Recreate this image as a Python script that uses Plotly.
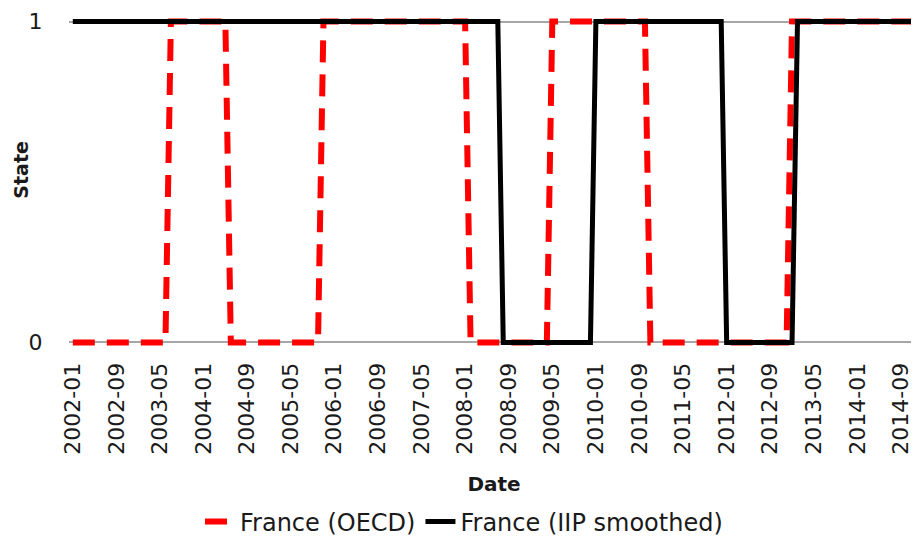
import plotly.graph_objects as go

# Monthly categories 2002-01 .. 2015-03
MONTHS = [f"{y}-{m:02d}" for y in range(2002, 2016) for m in range(1, 13)][:159]

TICK_LABELS = ["2002-01", "2002-09", "2003-05", "2004-01", "2004-09", "2005-05",
               "2006-01", "2006-09", "2007-05", "2008-01", "2008-09", "2009-05",
               "2010-01", "2010-09", "2011-05", "2012-01", "2012-09", "2013-05",
               "2014-01", "2014-09"]

# France (OECD) state, one value per month (rows = years)
OECD = (
    [0, 0, 0, 0, 0, 0, 0, 0, 0, 0, 0, 0] +   # 2002
    [0, 0, 0, 0, 0, 0, 1, 1, 1, 1, 1, 1] +   # 2003
    [1, 1, 1, 1, 1, 0, 0, 0, 0, 0, 0, 0] +   # 2004
    [0, 0, 0, 0, 0, 0, 0, 0, 0, 0, 1, 1] +   # 2005
    [1, 1, 1, 1, 1, 1, 1, 1, 1, 1, 1, 1] +   # 2006
    [1, 1, 1, 1, 1, 1, 1, 1, 1, 1, 1, 1] +   # 2007
    [1, 0, 0, 0, 0, 0, 0, 0, 0, 0, 0, 0] +   # 2008
    [0, 0, 0, 0, 1, 1, 1, 1, 1, 1, 1, 1] +   # 2009
    [1, 1, 1, 1, 1, 1, 1, 1, 1, 1, 0, 0] +   # 2010
    [0, 0, 0, 0, 0, 0, 0, 0, 0, 0, 0, 0] +   # 2011
    [0, 0, 0, 0, 0, 0, 0, 0, 0, 0, 0, 0] +   # 2012
    [1, 1, 1, 1, 1, 1, 1, 1, 1, 1, 1, 1] +   # 2013
    [1, 1, 1, 1, 1, 1, 1, 1, 1, 1, 1, 1] +   # 2014
    [1, 1, 1]                                # 2015
)

# France (IIP smoothed) state
IIP = (
    [1, 1, 1, 1, 1, 1, 1, 1, 1, 1, 1, 1] +   # 2002
    [1, 1, 1, 1, 1, 1, 1, 1, 1, 1, 1, 1] +   # 2003
    [1, 1, 1, 1, 1, 1, 1, 1, 1, 1, 1, 1] +   # 2004
    [1, 1, 1, 1, 1, 1, 1, 1, 1, 1, 1, 1] +   # 2005
    [1, 1, 1, 1, 1, 1, 1, 1, 1, 1, 1, 1] +   # 2006
    [1, 1, 1, 1, 1, 1, 1, 1, 1, 1, 1, 1] +   # 2007
    [1, 1, 1, 1, 1, 1, 1, 0, 0, 0, 0, 0] +   # 2008
    [0, 0, 0, 0, 0, 0, 0, 0, 0, 0, 0, 0] +   # 2009
    [1, 1, 1, 1, 1, 1, 1, 1, 1, 1, 1, 1] +   # 2010
    [1, 1, 1, 1, 1, 1, 1, 1, 1, 1, 1, 1] +   # 2011
    [0, 0, 0, 0, 0, 0, 0, 0, 0, 0, 0, 0] +   # 2012
    [0, 1, 1, 1, 1, 1, 1, 1, 1, 1, 1, 1] +   # 2013
    [1, 1, 1, 1, 1, 1, 1, 1, 1, 1, 1, 1] +   # 2014
    [1, 1, 1]                                # 2015
)

Y_TICKS = [0, 1]
Y_LABELS = ["0", "1"]

FONT = "DejaVu Sans"
TXT = "#1a1a1a"

fig = go.Figure()
fig.add_trace(go.Scatter(
    x=MONTHS, y=OECD, mode="lines", name="France (OECD)",
    line=dict(color="#ff0000", width=6, dash="22px,12px"),
))
fig.add_trace(go.Scatter(
    x=MONTHS, y=IIP, mode="lines", name="France (IIP smoothed)",
    line=dict(color="#000000", width=5),
))

fig.update_layout(
    width=911, height=532,
    margin=dict(l=61.3, r=0, t=4.4, b=188.4, autoexpand=False),
    paper_bgcolor="white", plot_bgcolor="white",
    font=dict(family=FONT, color=TXT),
    showlegend=True,
    legend=dict(
        orientation="h", xref="container", yref="container",
        x=456 / 911, xanchor="center", y=0.034, yanchor="middle",
        font=dict(family=FONT, size=24, color=TXT),
        tracegroupgap=0,
    ),
    xaxis=dict(
        type="category", range=[-0.7, 155.3],
        tickmode="array", tickvals=TICK_LABELS, ticktext=TICK_LABELS,
        tickangle=-90, tickfont=dict(family=FONT, size=22, color=TXT),
        ticks="outside", ticklen=1, tickcolor="rgba(0,0,0,0)",
        showgrid=False, zeroline=False, showline=False,
        title=dict(text="<b>Date</b>", font=dict(family=FONT, size=20, color=TXT),
                   standoff=23),
        automargin=False,
    ),
    yaxis=dict(
        range=[-0.03, 1.03],
        tickmode="array", tickvals=Y_TICKS, ticktext=Y_LABELS,
        tickfont=dict(family=FONT, size=22, color=TXT),
        ticks="outside", ticklen=21, tickcolor="rgba(0,0,0,0)",
        showgrid=True, gridcolor="#a6a6a6", gridwidth=1.5,
        zeroline=False, showline=False,
        automargin=False,
    ),
    annotations=[dict(
        text="<b>State</b>", xref="paper", yref="paper",
        x=-(61.3 - 13) / 849.7, y=(339.2 - (170 - 12.4)) / 339.2,
        xanchor="center", yanchor="middle", textangle=-90, showarrow=False,
        font=dict(family=FONT, size=19, color=TXT),
    )],
)

fig.write_html("out.html")
